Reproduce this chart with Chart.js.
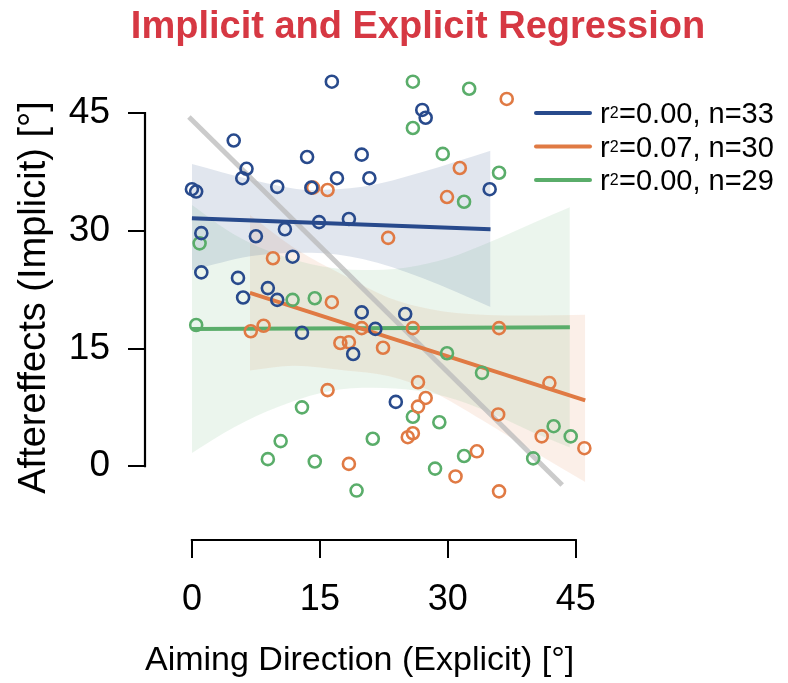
<!DOCTYPE html>
<html>
<head>
<meta charset="utf-8">
<script src="https://cdn.jsdelivr.net/npm/chart.js@4.4.0/dist/chart.umd.min.js"></script>
<style>
  html, body { margin: 0; padding: 0; background: #fff; }
</style>
</head>
<body>
<canvas id="chart" width="788" height="683"></canvas>
<script>
// values
const chartTitle = 'Implicit and Explicit Regression';
const xTicks = [0, 15, 30, 45];
const yTicks = [0, 15, 30, 45];

const blueX = [16.4, 4.9, 6.4, 5.9, 13.5, 19.9, 20.8, 17.0, 10.0, 14.0, 0.0, 0.5, 14.9, 18.4, 1.1, 10.9, 7.5, 11.8, 1.1, 5.4, 6.0, 8.9, 10.0, 12.9, 19.9, 18.9, 21.5, 25.0, 23.9, 34.9, 27.0, 27.4];
const blueY = [49.0, 41.5, 37.9, 36.7, 39.4, 39.7, 36.7, 36.7, 35.6, 35.5, 35.3, 35.0, 31.1, 31.5, 29.7, 30.2, 29.3, 26.7, 24.7, 24.0, 21.5, 22.7, 21.2, 17.0, 19.6, 14.3, 17.5, 19.4, 8.2, 35.3, 45.4, 44.4];

const orangeX = [14.2, 15.9, 9.5, 36.9, 31.4, 29.9, 23.0, 6.9, 8.4, 16.4, 17.4, 18.4, 15.9, 18.4, 19.9, 25.9, 22.4, 26.5, 27.4, 26.5, 36.0, 25.3, 25.9, 35.9, 41.9, 41.0, 46.0, 33.4, 30.9, 36.0];
const orangeY = [35.5, 35.2, 26.5, 46.8, 38.0, 34.3, 29.1, 17.2, 17.9, 20.9, 15.7, 15.8, 9.7, 0.3, 17.6, 17.6, 15.1, 10.7, 8.7, 7.6, 17.6, 3.7, 4.2, 6.6, 10.6, 3.8, 2.3, 1.9, -1.3, -3.2];

const greenX = [0.9, 25.9, 32.5, 25.9, 29.4, 36.0, 31.9, 0.5, 11.8, 14.4, 12.9, 10.4, 8.9, 14.4, 19.3, 21.2, 29.9, 34.0, 25.9, 29.0, 31.9, 28.5, 42.4, 44.4, 40.0];
const greenY = [28.4, 49.0, 48.1, 43.1, 39.8, 37.4, 33.7, 18.0, 21.2, 21.4, 7.5, 3.2, 0.9, 0.6, -3.1, 3.5, 14.4, 11.9, 6.3, 5.6, 1.3, -0.3, 5.1, 3.8, 1.0];

// fitted lines (end points)
const blueFitX = [0, 35.0];
const blueFitY = [31.6, 30.2];
const orangeFitX = [6.8, 46.1];
const orangeFitY = [22.1, 8.4];
const greenFitX = [0, 44.3];
const greenFitY = [17.5, 17.7];

// grey diagonal
const diagX = [-0.35, 43.4];
const diagY = [44.5, -2.4];

// confidence bands
const blueBandX = [0, 7, 14, 20, 27, 35.0];
const blueBandHi = [38.5, 36.5, 35.2, 35.6, 37.5, 40.2];
const blueBandLo = [25.0, 26.8, 27.2, 26.4, 24.0, 20.3];

const orangeBandX = [6.8, 12, 18, 23, 28, 34, 40, 46.1];
const orangeBandHi = [32.0, 27.8, 24.2, 21.5, 20.0, 19.3, 19.2, 19.3];
const orangeBandLo = [12.2, 12.8, 12.2, 11.5, 9.6, 5.9, 1.9, -2.0];

const greenBandX = [0, 5, 10, 15, 20, 25, 30, 35, 40, 44.3];
const greenBandHi = [33.3, 29.5, 27.0, 25.5, 25.0, 25.3, 26.5, 28.6, 31.0, 33.0];
const greenBandLo = [1.7, 5.0, 7.5, 9.3, 10.0, 9.8, 8.8, 6.8, 4.3, 2.4];

const legendR2 = ['0.00', '0.07', '0.00'];
const legendN = [33, 30, 29];

const BLUE = '#284a8c';
const ORANGE = '#e07a44';
const GREEN = '#5aad6a';
const seriesColors = [BLUE, ORANGE, GREEN];
const FONT = '"Liberation Sans", Arial, Helvetica, sans-serif';

function pts(xs, ys) {
  return xs.map((x, i) => ({ x: x, y: ys[i] }));
}

function scatterSet(xs, ys, color) {
  return {
    type: 'scatter',
    data: pts(xs, ys),
    borderColor: color,
    backgroundColor: 'rgba(0,0,0,0)',
    pointRadius: 6,
    borderWidth: 2.6,
    order: 0
  };
}

function fitSet(xs, ys, color) {
  return {
    type: 'line',
    data: pts(xs, ys),
    borderColor: color,
    borderWidth: 4,
    pointRadius: 0,
    fill: false,
    order: 1
  };
}

function bandSets(xs, hi, lo, fillColor) {
  return [
    {
      type: 'line',
      data: pts(xs, hi),
      borderWidth: 0,
      borderColor: 'rgba(0,0,0,0)',
      pointRadius: 0,
      fill: false,
      cubicInterpolationMode: 'monotone',
      order: 3
    },
    {
      type: 'line',
      data: pts(xs, lo),
      borderWidth: 0,
      borderColor: 'rgba(0,0,0,0)',
      backgroundColor: fillColor,
      pointRadius: 0,
      fill: '-1',
      cubicInterpolationMode: 'monotone',
      order: 3
    }
  ];
}

const datasets = [
  scatterSet(blueX, blueY, BLUE),
  scatterSet(orangeX, orangeY, ORANGE),
  scatterSet(greenX, greenY, GREEN),
  fitSet(blueFitX, blueFitY, BLUE),
  fitSet(orangeFitX, orangeFitY, ORANGE),
  fitSet(greenFitX, greenFitY, GREEN),
  {
    type: 'line',
    data: pts(diagX, diagY),
    borderColor: 'rgba(185,185,185,0.75)',
    borderWidth: 5,
    pointRadius: 0,
    fill: false,
    order: 2
  }
].concat(
  bandSets(blueBandX, blueBandHi, blueBandLo, 'rgba(43,75,138,0.14)'),
  bandSets(greenBandX, greenBandHi, greenBandLo, 'rgba(90,173,106,0.12)'),
  bandSets(orangeBandX, orangeBandHi, orangeBandLo, 'rgba(224,122,68,0.12)')
);

// R style axis lines: only from first to last tick
const axisLines = {
  id: 'axisLines',
  afterDraw(chart) {
    const ctx = chart.ctx;
    const x = chart.scales.x;
    const y = chart.scales.y;
    const yTop = y.getPixelForValue(yTicks[yTicks.length - 1]);
    const yBot = y.getPixelForValue(yTicks[0]);
    const xL = x.getPixelForValue(xTicks[0]);
    const xR = x.getPixelForValue(xTicks[xTicks.length - 1]);
    const axisX = y.right;
    const axisY = x.top;
    ctx.save();
    ctx.strokeStyle = '#000';
    ctx.lineWidth = 2.2;
    ctx.lineCap = 'square';
    ctx.beginPath();
    ctx.moveTo(axisX, yBot);
    ctx.lineTo(axisX, yTop);
    ctx.stroke();
    ctx.beginPath();
    ctx.moveTo(xL, axisY);
    ctx.lineTo(xR, axisY);
    ctx.stroke();
    ctx.restore();
  }
};

const titleText = {
  id: 'titleText',
  afterDraw(chart) {
    const ctx = chart.ctx;
    ctx.save();
    ctx.fillStyle = '#d63843';
    ctx.font = 'bold 38px ' + FONT;
    ctx.textAlign = 'center';
    ctx.textBaseline = 'alphabetic';
    ctx.fillText(chartTitle, 418, 38);
    ctx.restore();
  }
};

const legendRows = {
  id: 'legendRows',
  afterDraw(chart) {
    const ctx = chart.ctx;
    ctx.save();
    legendR2.forEach((r2, i) => {
      const yy = 113 + i * 33.5;
      ctx.strokeStyle = seriesColors[i];
      ctx.lineWidth = 4;
      ctx.lineCap = 'round';
      ctx.beginPath();
      ctx.moveTo(536, yy);
      ctx.lineTo(590, yy);
      ctx.stroke();

      ctx.fillStyle = '#000';
      ctx.textBaseline = 'alphabetic';
      let tx = 600;
      ctx.font = '29px ' + FONT;
      ctx.fillText('r', tx, yy + 10);
      tx += ctx.measureText('r').width;
      ctx.font = '16px ' + FONT;
      ctx.fillText('2', tx, yy + 5);
      tx += ctx.measureText('2').width + 0.5;
      ctx.font = '29px ' + FONT;
      ctx.fillText('=' + r2 + ', n=' + legendN[i], tx, yy + 10);
    });
    ctx.restore();
  }
};

new Chart(document.getElementById('chart'), {
  type: 'scatter',
  data: { datasets: datasets },
  options: {
    responsive: false,
    animation: false,
    devicePixelRatio: 1,
    layout: { padding: { left: 0, right: 97, top: 55, bottom: 0 } },
    plugins: {
      legend: { display: false },
      tooltip: { enabled: false },
      title: { display: false }
    },
    scales: {
      x: {
        type: 'linear',
        min: -5.5,
        max: 58.5,
        afterBuildTicks: s => { s.ticks = xTicks.map(v => ({ value: v })); },
        afterFit: s => { s.height = 143; },
        border: { display: false },
        grid: { drawOnChartArea: false, drawTicks: true, tickLength: 18, color: '#000', lineWidth: 2 },
        ticks: { font: { family: FONT, size: 36 }, color: '#000', padding: 20, maxRotation: 0, autoSkip: false },
        title: {
          display: true,
          text: 'Aiming Direction (Explicit) [°]',
          align: 'start',
          color: '#000',
          font: { family: FONT, size: 34 },
          padding: { top: 0, bottom: 2 }
        }
      },
      y: {
        type: 'linear',
        min: -9.4,
        max: 52.4,
        afterBuildTicks: s => { s.ticks = yTicks.map(v => ({ value: v })); },
        afterFit: s => { s.width = 145; },
        border: { display: false },
        grid: { drawOnChartArea: false, drawTicks: true, tickLength: 17, color: '#000', lineWidth: 2 },
        ticks: { font: { family: FONT, size: 37 }, color: '#000', padding: 18, autoSkip: false },
        title: {
          display: true,
          text: 'Aftereffects (Implicit) [°]',
          color: '#000',
          font: { family: FONT, size: 38 },
          padding: { top: 12, bottom: 0 }
        }
      }
    }
  },
  plugins: [axisLines, titleText, legendRows]
});
</script>
</body>
</html>
